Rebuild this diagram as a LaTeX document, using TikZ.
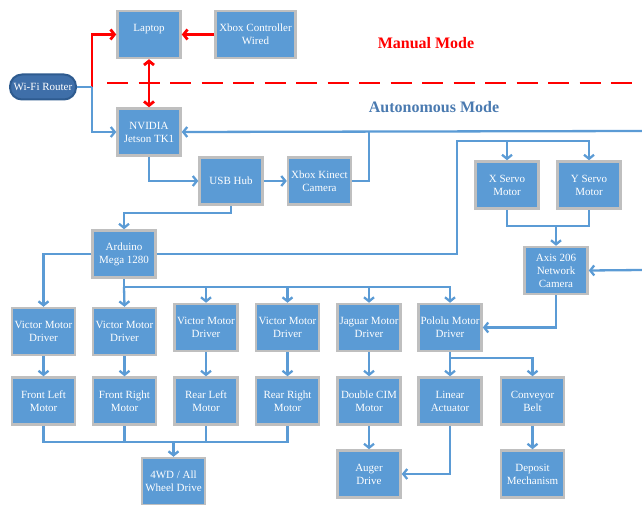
\documentclass[tikz,border=0pt]{standalone}
\usepackage{fontspec}
\setmainfont{Liberation Serif}
\usetikzlibrary{arrows.meta}
\definecolor{boxblue}{HTML}{5B9BD5}
\definecolor{boxgray}{HTML}{BFBFBF}
\definecolor{routerfill}{HTML}{3F6FA9}
\definecolor{routerline}{HTML}{2E5B8F}
\definecolor{autoblue}{HTML}{4A7AB0}
\definecolor{manred}{HTML}{FF0000}
\begin{document}
\begin{tikzpicture}[x=1pt,y=-1pt,
  blk/.style={draw=boxgray, line width=2.5pt, fill=boxblue, text=white,
    font=\fontsize{11}{13}\selectfont, align=center,
    minimum width=63pt, minimum height=47pt, inner sep=1pt},
  router/.style={draw=routerline, line width=2pt, fill=routerfill, text=white,
    font=\fontsize{11}{13}\selectfont, rounded corners=12pt,
    minimum width=66pt, minimum height=25pt, inner sep=1pt},
  tip/.style={-{Straight Barb[length=4pt,width=10pt]}},
  bline/.style={draw=boxblue, line width=2.3pt},
  conn/.style={bline, tip},
  rline/.style={draw=manred, line width=2.8pt},
  rconn/.style={rline, tip},
  title/.style={font=\fontsize{16}{18}\selectfont\bfseries}
]
\useasboundingbox (0,0) rectangle (642,505);

% nodes
\node[blk] (laptop) at (149,34.5) {Laptop\\\mbox{}};
\node[blk, minimum width=80pt] (xbox) at (255.5,34.5) {Xbox Controller\\Wired};
\node[router] (wifi) at (43,87) {Wi-Fi Router};
\node[blk] (nvidia) at (149,132) {NVIDIA\\Jetson TK1};
\node[blk] (usb) at (231,181) {USB Hub};
\node[blk] (kinect) at (319.5,181) {Xbox Kinect\\Camera};
\node[blk] (ard) at (124,254) {Arduino\\Mega 1280};
\node[blk] (xs) at (507,185) {X Servo\\Motor};
\node[blk] (ys) at (589,185) {Y Servo\\Motor};
\node[blk] (axis) at (556,270.5) {Axis 206\\Network\\Camera};
\node[blk] (v1) at (43.5,331.5) {Victor Motor\\Driver};
\node[blk] (v2) at (124.5,331.5) {Victor Motor\\Driver};
\node[blk] (v3) at (206,327.5) {Victor Motor\\Driver};
\node[blk] (v4) at (287.5,327.5) {Victor Motor\\Driver};
\node[blk] (jag) at (369,327.5) {Jaguar Motor\\Driver};
\node[blk] (pol) at (450,327.5) {Pololu Motor\\Driver};
\node[blk] (fl) at (43.5,401) {Front Left\\Motor};
\node[blk] (fr) at (124.5,401) {Front Right\\Motor};
\node[blk] (rl) at (206,401) {Rear Left\\Motor};
\node[blk] (rr) at (287.5,401) {Rear Right\\Motor};
\node[blk] (cim) at (369,401) {Double CIM\\Motor};
\node[blk] (lin) at (450,401) {Linear\\Actuator};
\node[blk] (conv) at (532.5,401) {Conveyor\\Belt};
\node[blk] (wd) at (173.5,481.5) {4WD / All\\Wheel Drive};
\node[blk] (aug) at (369,474) {Auger\\Drive};
\node[blk] (dep) at (532.5,474) {Deposit\\Mechanism};

\node[title, text=manred] (mtitle) at (426,43) {Manual Mode};
\node[title, text=autoblue] (atitle) at (434,107) {Autonomous Mode};

% coordinates
\coordinate (split) at (92,87);
\coordinate (dashL) at (107,83);
\coordinate (dashR) at (642,83);
\coordinate (eR) at (642,131);
\coordinate (kj) at (369,131);
\coordinate (aR) at (457,254);
\coordinate (aT) at (457,141);
\coordinate (sj) at (556,226);
\coordinate (eR2) at (642,270);
\coordinate (bj) at (124,287);
\coordinate (pj) at (450,358);
\coordinate (mj) at (173.5,442);

% manual mode (red)
\draw[rline, dash pattern=on 21pt off 10.5pt] (dashL) -- (dashR);
\draw[rconn] (split) |- (laptop.west);
\draw[rconn] (xbox.west) -- (laptop.east);
\draw[rline, {Straight Barb[length=4pt,width=10pt]}-{Straight Barb[length=4pt,width=10pt]}] (laptop.south) -- (nvidia.north);

% autonomous (blue)
\draw[bline] (wifi.east) -- (split);
\draw[conn] (split) |- (nvidia.west);
\draw[conn] (eR) -- (nvidia.east);
\draw[bline] (kinect.east) -| (kj);
\draw[conn] (nvidia.south) |- (usb.west);
\draw[conn] (usb.east) -- (kinect.west);
\draw[conn] (usb.south) -- ++(0,7) -| (ard.north);
\draw[conn] (ard.west) -| (v1.north);
\draw[conn] (ard.east) -- (aR) -- (aT) -| (ys.north);
\draw[conn] (xs.north |- aT) -- (xs.north);
\draw[bline] (xs.south) |- (sj) -| (ys.south);
\draw[conn] (sj) -- (axis.north);
\draw[conn] (eR2) -- (axis.east);
\draw[conn] (axis.south) |- (pol.east);
\draw[conn] (ard.south) -- (bj) -| (pol.north);
\draw[conn] (bj) -- (v2.north);
\draw[conn] (v3.north |- bj) -- (v3.north);
\draw[conn] (v4.north |- bj) -- (v4.north);
\draw[conn] (jag.north |- bj) -- (jag.north);
\draw[conn] (v1.south) -- (fl.north);
\draw[conn] (v2.south) -- (fr.north);
\draw[conn] (v3.south) -- (rl.north);
\draw[conn] (v4.south) -- (rr.north);
\draw[conn] (jag.south) -- (cim.north);
\draw[conn] (cim.south) -- (aug.north);
\draw[conn] (pol.south) -- (lin.north);
\draw[conn] (pj) -| (conv.north);
\draw[conn] (conv.south) -- (dep.north);
\draw[conn] (lin.south) |- (aug.east);
\draw[bline] (fl.south) |- (mj) -| (rr.south);
\draw[bline] (fr.south) -- (fr.south |- mj);
\draw[bline] (rl.south) -- (rl.south |- mj);
\draw[conn] (mj) -- (wd.north);
\end{tikzpicture}
\end{document}
